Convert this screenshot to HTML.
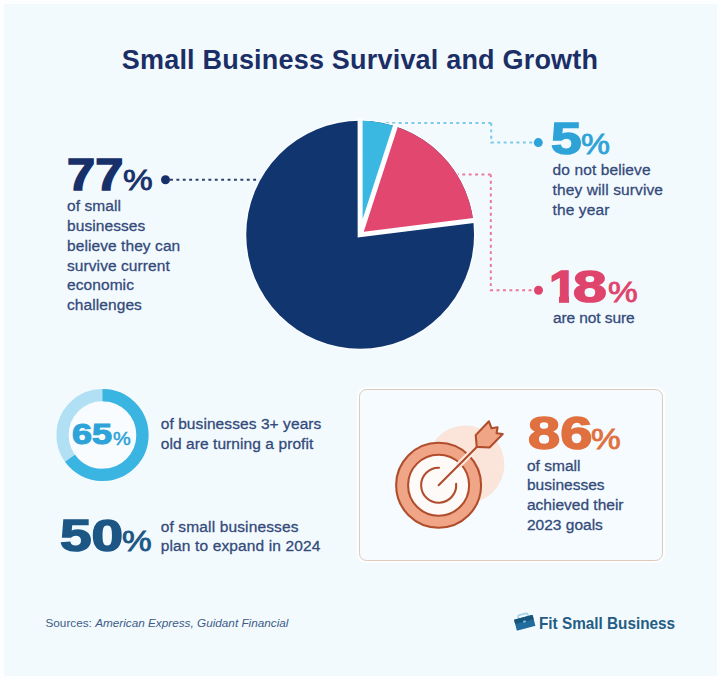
<!DOCTYPE html>
<html>
<head>
<meta charset="utf-8">
<title>Small Business Survival and Growth</title>
<style>
  html, body { margin: 0; padding: 0; }
  body {
    width: 720px; height: 679px; overflow: hidden; position: relative;
    background: #fcfeff;
    font-family: "Liberation Sans", sans-serif;
  }
  .canvas {
    position: absolute; left: 3.5px; top: 3.5px; width: 713.5px; height: 672.5px;
    background: #f3fafe;
  }
  .abs { position: absolute; white-space: nowrap; }
  .title {
    left: 0; width: 720px; top: 43.5px; text-align: center;
    font-weight: bold; font-size: 27px; line-height: 32px; letter-spacing: 0.2px;
    color: #1b2f66;
  }
  .body-text {
    font-size: 15.5px; line-height: 19.8px; color: #334a7a;
    -webkit-text-stroke: 0.3px currentColor;
  }
  .num {
    font-weight: bold; transform-origin: 0 100%; display: inline-block; line-height: 1;
    -webkit-text-stroke: 1.5px currentColor; paint-order: stroke fill;
  }
  .pct { font-weight: normal; -webkit-text-stroke-width: 0.8px; }
  .navy { color: #17306a; }
  .sky { color: #2ea3d8; }
  .pink { color: #df446d; }
  .teal { color: #1b5685; }
  .orange { color: #e0703f; }
  .src { left: 45.5px; top: 615.5px; font-size: 11.75px; line-height: 14px; color: #3d5c87; }
  .src i { font-style: italic; }
  .brand {
    left: 538.7px; top: 612.7px; font-weight: bold; font-size: 17px; line-height: 22px;
    color: #245c84; transform: scaleX(0.9); transform-origin: 0 50%;
  }
  .box {
    position: absolute; left: 358.6px; top: 388.6px; width: 302.6px; height: 170.6px;
    border: 1.4px solid #dfc9bc; border-radius: 7.5px; background: #f5fbfe;
    box-shadow: 0 0 0 2px rgba(255,255,255,0.75);
  }
</style>
</head>
<body>
<div class="canvas"></div>

<div class="abs title">Small Business Survival and Growth</div>

<!-- Pie chart + connector lines -->
<svg class="abs" style="left:0;top:0" width="720" height="679" viewBox="0 0 720 679">
  <!-- connectors -->
  <g fill="none" stroke-width="2" stroke-dasharray="2.9 3.5">
    <path d="M170 179.7 H270" stroke="#2b3f6e"/>
    <path d="M491.2 123 H370 M491.2 123 V142.5 H534" stroke="#7cc8ea"/>
    <path d="M490.8 174.4 H440 M490.8 174.4 V290.2 H534" stroke="#ea7896"/>
  </g>
  <circle cx="165.5" cy="179.7" r="4.5" fill="#17306a"/>
  <circle cx="538.3" cy="142.6" r="4.5" fill="#2ea3d8"/>
  <circle cx="538.5" cy="290.2" r="4.5" fill="#df446d"/>
  <!-- pie -->
  <circle cx="360.15" cy="234.75" r="115.10000000000001" fill="#fcfeff"/>
  <circle cx="360.15" cy="234.75" r="113.9" fill="#11356f"/>
  <path d="M360.15 234.75 L360.1 120.8 A113.9 113.9 0 0 1 395.3 126.4 Z" fill="#3bb8e2"/>
  <path d="M360.15 234.75 L395.3 126.4 A113.9 113.9 0 0 1 473.2 220.5 Z" fill="#e2476f"/>
  <path d="M360.1 118.3 L360.15 234.75 L475.6 220.2 M360.15 234.75 L396.1 124.0" fill="none" stroke="#fdfeff" stroke-width="5" stroke-linejoin="miter"/>
</svg>

<!-- 77% -->
<div class="abs navy" style="left:67px;top:153px;">
  <span class="num" style="font-size:44px;transform:scaleX(1.15);">77</span>
</div>
<div class="abs navy" style="left:122.6px;top:166.1px;">
  <span class="num pct" style="font-size:28.8px;transform:scaleX(1.16);">%</span>
</div>
<div class="abs body-text" style="left:67px;top:196.2px;letter-spacing:0.08px;">of small<br>businesses<br>believe they can<br>survive current<br>economic<br>challenges</div>

<!-- 5% -->
<div class="abs sky" style="left:551.2px;top:116.7px;">
  <span class="num" style="font-size:44px;transform:scaleX(1.25);">5</span>
</div>
<div class="abs sky" style="left:580.9px;top:129.7px;">
  <span class="num pct" style="font-size:28.8px;transform:scaleX(1.13);">%</span>
</div>
<div class="abs body-text" style="left:552.5px;top:160.4px;letter-spacing:0.12px;">do not believe<br>they will survive<br>the year</div>

<!-- 18% -->
<div class="abs pink" style="left:548.8px;top:264.8px;">
  <span class="num" style="font-size:44px;transform:scaleX(1.155);">1</span>
</div>
<div class="abs" style="left:548px;top:296.2px;width:10.8px;height:8px;background:#f3fafe;"></div>
<div class="abs" style="left:568.6px;top:296.2px;width:12px;height:8px;background:#f3fafe;"></div>
<div class="abs pink" style="left:572.9px;top:264.8px;">
  <span class="num" id="eight" style="font-size:44px;transform:scaleX(1.38);">8</span>
</div>
<div class="abs pink" style="left:607.5px;top:278.2px;">
  <span class="num pct" style="font-size:28.8px;transform:scaleX(1.16);">%</span>
</div>
<div class="abs body-text" style="left:553px;top:307.7px;letter-spacing:-0.1px;">are not sure</div>

<!-- 65% donut -->
<svg class="abs" style="left:55px;top:384px" width="100" height="100" viewBox="0 0 100 100">
  <circle cx="47.5" cy="51" r="39.95" fill="#f8fcfe" stroke="#b1e0f4" stroke-width="12.2"/>
  <circle cx="47.5" cy="51" r="39.95" fill="none" stroke="#3ab5e1" stroke-width="12.2"
          stroke-dasharray="163.16 251.02" transform="rotate(-90 47.5 51)"/>
</svg>
<div class="abs sky" style="left:71.6px;top:419.6px;">
  <span class="num" style="font-size:29px;transform:scaleX(1.24);-webkit-text-stroke-width:1.1px;">65</span>
</div>
<div class="abs sky" style="left:113.3px;top:428.9px;">
  <span class="num pct" style="font-size:19px;transform:scaleX(1.05);-webkit-text-stroke-width:0.5px;">%</span>
</div>
<div class="abs body-text" style="left:160.7px;top:414px;letter-spacing:0.08px;">of businesses 3+ years<br>old are turning a profit</div>

<!-- 50% -->
<div class="abs teal" style="left:60.3px;top:513.5px;">
  <span class="num" style="font-size:44px;transform:scaleX(1.29);">50</span>
</div>
<div class="abs teal" style="left:122.3px;top:526.8px;">
  <span class="num pct" style="font-size:28.8px;transform:scaleX(1.16);">%</span>
</div>
<div class="abs body-text" style="left:160.7px;top:516.7px;letter-spacing:0.14px;">of small businesses<br>plan to expand in 2024</div>

<!-- 86% box -->
<div class="box"></div>
<svg class="abs" style="left:385px;top:405px" width="140" height="140" viewBox="0 0 679 679">
  <circle cx="390" cy="289" r="189" fill="#fbe5db"/>
  <circle cx="260" cy="389" r="206" fill="#f0a587" stroke="#b04d2c" stroke-width="10"/>
  <circle cx="260" cy="389" r="148" fill="#fefaf8" stroke="#b04d2c" stroke-width="10"/>
  <path d="M262 304 A85 85 0 1 0 345 382" fill="none" stroke="#b04d2c" stroke-width="10" stroke-linecap="round"/>
  <path d="M352 297 L424 225" fill="none" stroke="#fbe9e2" stroke-width="30"/>
  <path d="M260 389 L450 199" fill="none" stroke="#b04d2c" stroke-width="10" stroke-linecap="round"/>
  <path d="M445 203 L440 146 L504 79 L517 113 L546 108 L541 137 L571 141 L507 206 Z" fill="#f0a587" stroke="#b04d2c" stroke-width="10" stroke-linejoin="round"/>
</svg>
<div class="abs orange" style="left:527.7px;top:410.5px;">
  <span class="num" style="font-size:45.5px;transform:scaleX(1.27);">86</span>
</div>
<div class="abs orange" style="left:591.2px;top:425.4px;">
  <span class="num pct" style="font-size:28.8px;transform:scaleX(1.16);">%</span>
</div>
<div class="abs body-text" style="left:527px;top:455.5px;">of small<br>businesses<br>achieved their<br>2023 goals</div>

<!-- footer -->
<div class="abs src">Sources: <i>American Express, Guidant Financial</i></div>
<svg class="abs" style="left:505px;top:603px" width="40" height="35" viewBox="0 0 40 35">
  <g transform="rotate(-14.5 19.75 19.8)">
    <path d="M14.9 14.4 V12.3 Q14.9 11 16.2 11 H23.4 Q24.7 11 24.7 12.3 V14.4" fill="none" stroke="#a5d2ea" stroke-width="1.7"/>
    <rect x="10.15" y="14.1" width="19.2" height="11.4" rx="0.8" fill="#1f6c9d"/>
    <path d="M10.15 14.9 Q10.15 14.1 10.95 14.1 H28.55 Q29.35 14.1 29.35 14.9 V18.6 H10.15 Z" fill="#18557a"/>
    <rect x="18.5" y="17.5" width="2.6" height="1.9" fill="#7cc6ec"/>
  </g>
</svg>
<div class="abs brand">Fit Small Business</div>
</body>
</html>
